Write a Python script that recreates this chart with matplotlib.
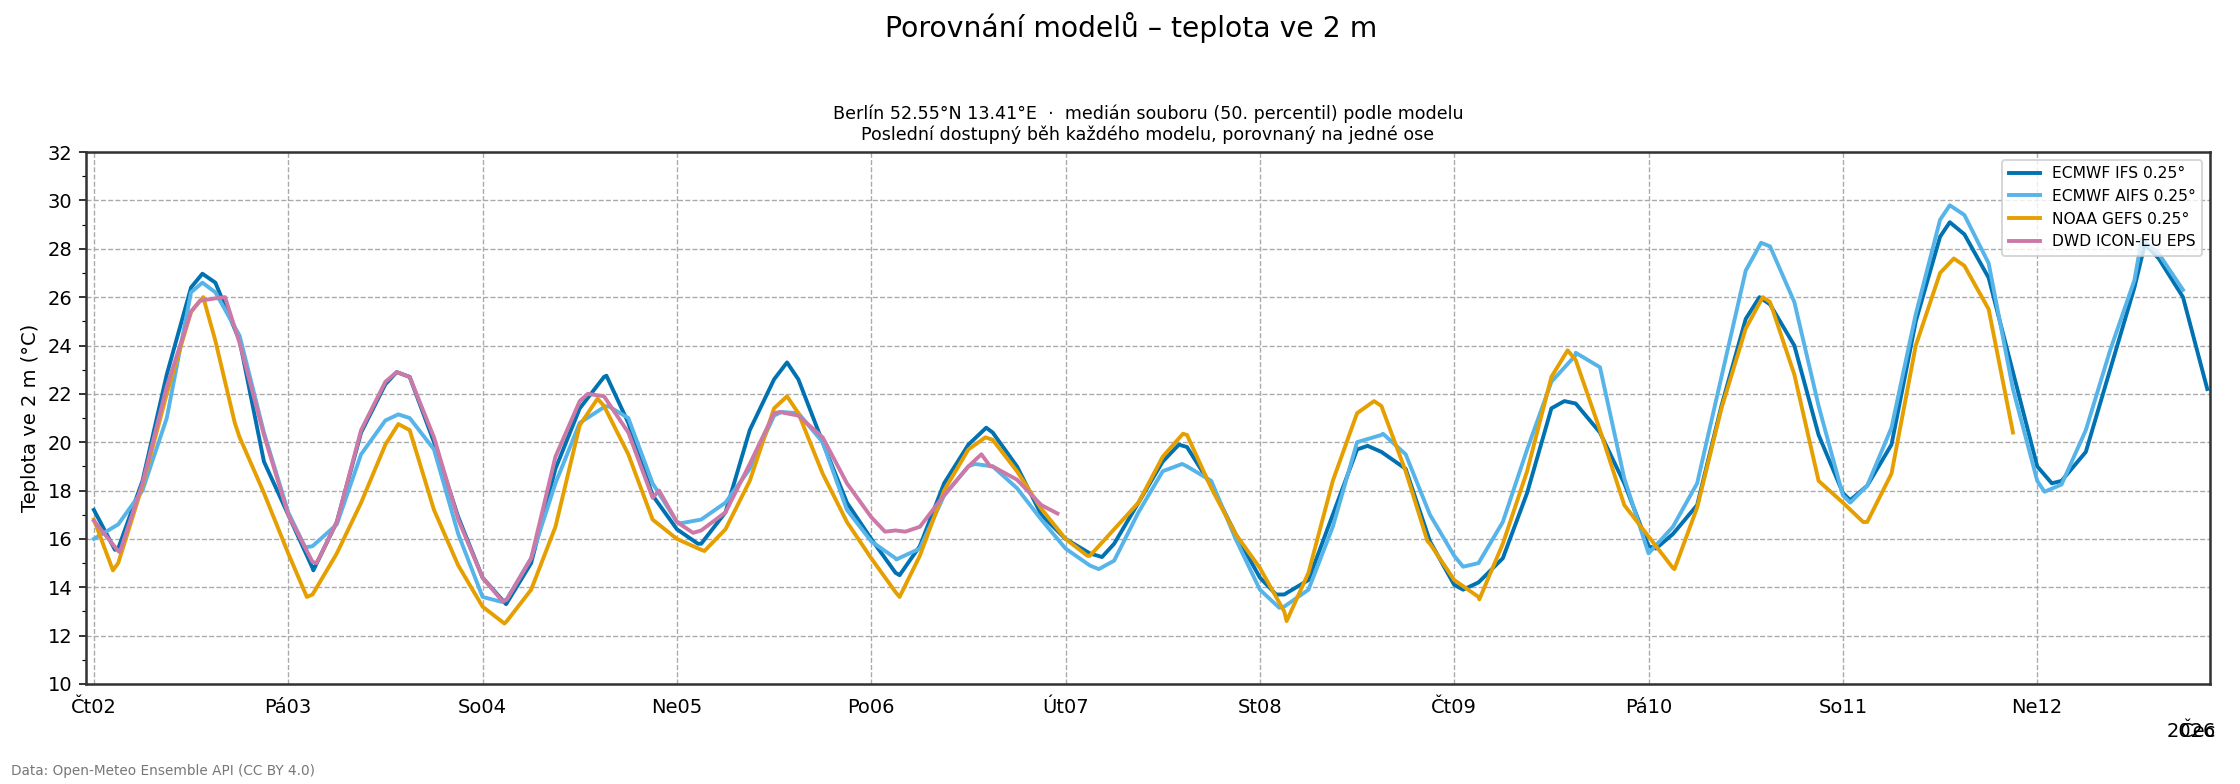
import numpy as np
import pandas as pd
import matplotlib
matplotlib.use("Agg")
import matplotlib.pyplot as plt
from matplotlib.ticker import MultipleLocator

# median 2 m temperature per model, 3-hourly from 2026-07-02 00:00
start = pd.Timestamp("2026-07-02 00:00")
step_h = 3

ifs = [17.2, 15.6, 18.4, 22.8, 26.4, 26.6, 24.2, 19.2,
       17.0, 14.8, 16.7, 20.4, 22.4, 22.7, 20.0, 16.9,
       14.4, 13.35, 15.0, 18.9, 21.4, 22.7, 20.8, 17.8,
       16.4, 15.8, 17.1, 20.5, 22.6, 22.6, 20.0, 17.5,
       16.0, 14.6, 15.7, 18.3, 19.9, 20.4, 19.0, 17.0,
       16.0, 15.4, 15.8, 17.5, 19.2, 19.8, 18.2, 16.2,
       14.4, 13.7, 14.3, 17.0, 19.7, 19.6, 18.9, 15.9,
       14.1, 14.2, 15.2, 17.9, 21.4, 21.6, 20.4, 18.3,
       15.7, 16.2, 17.4, 21.5, 25.1, 25.7, 24.0, 20.3,
       17.9, 18.2, 19.9, 25.0, 28.5, 28.6, 26.8, 22.9,
       19.0, 18.4, 19.6, 23.0, 26.4, 27.6, 26.0, 22.2]
# daily highs / lows between the 3-hourly values (hours from start)
ifs_ext_h = [2.6, 13.4, 27.1, 37.4, 50.9, 63.3, 74.6, 85.6, 99.5, 110.2, 124.5, 134.0,
             146.0, 157.3, 169.1, 181.6, 192.9, 205.7, 216.9, 229.2, 241.8, 253.3]
ifs_ext_v = [15.55, 26.97, 14.7, 22.9, 13.3, 22.75, 15.8, 23.3, 14.5, 20.6, 15.25, 19.9,
             13.7, 19.85, 13.9, 21.7, 15.6, 26.0, 17.6, 29.1, 18.3, 28.2]

aifs = [16.0, 16.6, 18.0, 21.0, 26.2, 26.2, 24.4, 20.4,
        17.1, 15.7, 16.6, 19.5, 20.9, 21.0, 19.7, 16.2,
        13.6, 13.5, 15.2, 18.3, 20.8, 21.45, 21.0, 18.3,
        16.7, 16.8, 17.5, 18.9, 21.1, 21.2, 20.0, 17.2,
        15.9, 15.2, 15.6, 17.8, 19.0, 19.0, 18.1, 16.8,
        15.6, 14.9, 15.1, 17.1, 18.8, 19.0, 18.4, 16.0,
        13.9, 13.2, 13.9, 16.5, 20.0, 20.3, 19.5, 17.0,
        15.3, 15.0, 16.7, 19.7, 22.5, 23.6, 23.1, 18.5,
        15.4, 16.5, 18.3, 22.7, 27.1, 28.1, 25.8, 21.5,
        17.8, 18.2, 20.6, 25.3, 29.2, 29.4, 27.4, 22.2,
        18.4, 18.25, 20.5, 23.8, 26.7, 27.8, 26.3]
aifs_ext_h = [13.4, 26.1, 37.6, 50.3, 63.5, 72.5, 84.9, 99.1, 108.8, 124.1, 134.4,
              146.4, 159.2, 169.1, 183.0, 205.9, 216.9, 229.2, 240.9, 252.9]
aifs_ext_v = [26.6, 15.65, 21.15, 13.4, 21.5, 16.65, 21.25, 15.15, 19.1, 14.75, 19.1,
              13.15, 20.35, 14.85, 23.7, 28.25, 17.5, 29.8, 17.95, 28.4]

gefs = [16.8, 15.0, 18.2, 22.0, 25.4, 24.2, 20.2, 17.9,
        15.4, 13.7, 15.4, 17.5, 19.9, 20.5, 17.2, 14.9,
        13.2, 12.6, 13.9, 16.5, 20.7, 21.5, 19.5, 16.8,
        16.0, 15.55, 16.4, 18.4, 21.4, 21.2, 18.7, 16.7,
        15.2, 13.8, 15.3, 18.0, 19.7, 20.1, 18.8, 17.25,
        16.0, 15.3, 16.4, 17.5, 19.4, 20.3, 18.1, 16.2,
        14.8, 13.0, 14.6, 18.4, 21.2, 21.5, 18.8, 15.8,
        14.3, 13.6, 15.8, 18.8, 22.7, 23.4, 20.5, 17.4,
        16.1, 14.8, 17.3, 21.4, 24.7, 25.8, 22.8, 18.4,
        17.5, 16.7, 18.7, 24.0, 27.0, 27.3, 25.5, 20.4]
gefs_ext_h = [2.35, 13.5, 17.4, 26.3, 37.6, 50.7, 62.2, 75.4, 85.6, 99.5, 110.1,
              122.7, 134.5, 147.3, 158.1, 164.7, 171.1, 182.0, 195.2, 206.1, 218.5, 229.7]
gefs_ext_v = [14.7, 26.0, 20.8, 13.6, 20.75, 12.5, 21.8, 15.5, 21.9, 13.6, 20.2,
              15.3, 20.35, 12.6, 21.7, 15.9, 13.5, 23.8, 14.75, 26.0, 16.7, 27.6]

icon = [16.75, 15.5, 18.3, 22.3, 25.4, 25.95, 24.1, 20.3,
        17.0, 15.05, 16.7, 20.5, 22.5, 22.7, 20.2, 16.8,
        14.4, 13.5, 15.2, 19.4, 21.7, 21.9, 20.4, 17.7,
        16.7, 16.35, 17.1, 19.1, 21.2, 21.1, 20.2, 18.3,
        16.9, 16.35, 16.5, 17.8, 19.0, 19.0, 18.45, 17.4]
icon_ext_h = [3.2, 13.1, 16.2, 27.5, 37.4, 50.5, 61.0, 69.8, 74.0, 84.7,
              97.7, 100.2, 109.6, 110.7, 119.0]
icon_ext_v = [15.45, 25.85, 26.0, 15.0, 22.9, 13.4, 22.0, 18.0, 16.25, 21.25,
              16.3, 16.3, 19.5, 19.0, 17.05]

models = ["ECMWF IFS 0.25°", "ECMWF AIFS 0.25°", "NOAA GEFS 0.25°", "DWD ICON-EU EPS"]
colors = ["#0072B2", "#56B4E9", "#E69F00", "#CC79A7"]

day_labels = ["Čt02", "Pá03", "So04", "Ne05", "Po06", "Út07", "St08",
              "Čt09", "Pá10", "So11", "Ne12"]


def build(grid_vals, ext_h, ext_v):
    df = pd.DataFrame({
        "h": list(np.arange(len(grid_vals)) * step_h) + list(ext_h),
        "v": list(grid_vals) + list(ext_v),
    }).sort_values("h")
    return start + pd.to_timedelta(df["h"], unit="h"), df["v"]


series = [build(ifs, ifs_ext_h, ifs_ext_v),
          build(aifs, aifs_ext_h, aifs_ext_v),
          build(gefs, gefs_ext_h, gefs_ext_v),
          build(icon, icon_ext_h, icon_ext_v)]

fig, ax = plt.subplots(figsize=(16, 5.6), dpi=140)
fig.subplots_adjust(left=0.0383, right=0.9866, bottom=0.1276, top=0.806)

for (t, v), name, c in zip(series, models, colors):
    ax.plot(t, v, color=c, lw=2, label=name)

ax.set_ylim(10, 32)
ax.yaxis.set_major_locator(MultipleLocator(2))
ax.yaxis.set_minor_locator(MultipleLocator(1))
ax.set_xlim(start - pd.Timedelta(hours=1), pd.Timestamp("2026-07-12 21:20"))
ax.set_xticks(pd.date_range(start, periods=len(day_labels), freq="D"))
ax.set_xticklabels(day_labels)
ax.tick_params(axis="x", length=0, pad=7)

ax.grid(True, which="major", ls="--", color="#aaaaaa", lw=0.7)
for s in ax.spines.values():
    s.set_color("#333333")
    s.set_linewidth(1.3)

ax.set_ylabel("Teplota ve 2 m (°C)")
ax.set_title("Berlín 52.55°N 13.41°E  ·  medián souboru (50. percentil) podle modelu\n"
             "Poslední dostupný běh každého modelu, porovnaný na jedné ose", fontsize=9)
fig.suptitle("Porovnání modelů – teplota ve 2 m", fontsize=14.5, x=0.505, y=0.985)
ax.legend(loc="upper right", fontsize=8)

# overlapping offset labels as in the original
ax.text(1.003, -0.1, "2026", transform=ax.transAxes, ha="right", va="baseline", fontsize=10)
ax.text(1.003, -0.1, "Čec", transform=ax.transAxes, ha="right", va="baseline", fontsize=10)

fig.text(0.005, 0.0166, "Data: Open-Meteo Ensemble API (CC BY 4.0)", fontsize=7,
         color="#777777", va="center")

fig.savefig("out.png", dpi=140)
